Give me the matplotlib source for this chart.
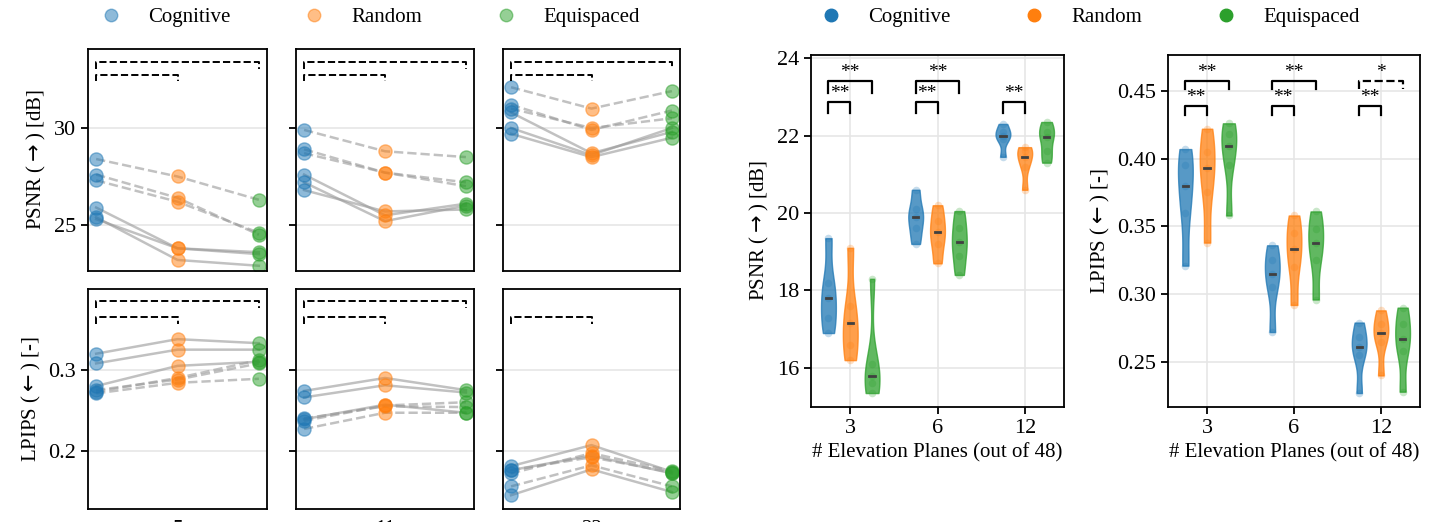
import numpy as np
import matplotlib
matplotlib.use("Agg")
import matplotlib.pyplot as plt
from matplotlib.lines import Line2D

plt.rcParams["font.family"] = ["Liberation Serif", "DejaVu Serif"]
plt.rcParams["font.size"] = 15
plt.rcParams["xtick.labelsize"] = 16
plt.rcParams["ytick.labelsize"] = 16

methods = ["Cognitive", "Random", "Equispaced"]
colors = ["#1f77b4", "#ff7f0e", "#2ca02c"]
panel_titles = ["5", "11", "23"]

# paired runs: [solid lines], [dashed lines], values for (Cognitive, Random, Equispaced)
psnr_solid = [
    [(25.3, 23.8, 23.5), (25.9, 23.8, 23.6), (25.4, 23.2, 22.9)],
    [(27.6, 25.5, 26.1), (27.2, 25.2, 26.0), (26.8, 25.7, 25.8)],
    [(30.0, 28.6, 30.0), (29.7, 28.5, 29.5), (30.8, 28.7, 29.8)],
]
psnr_dashed = [
    [(28.4, 27.5, 26.3), (27.6, 26.4, 24.5), (27.3, 26.2, 24.6)],
    [(29.9, 28.8, 28.5), (28.9, 27.7, 27.2), (28.7, 27.7, 27.0)],
    [(32.1, 31.0, 31.9), (31.2, 29.9, 30.9), (31.0, 30.0, 30.5)],
]
lpips_solid = [
    [(0.320, 0.338, 0.333), (0.308, 0.325, 0.325), (0.280, 0.305, 0.310)],
    [(0.274, 0.290, 0.275), (0.266, 0.281, 0.272), (0.239, 0.257, 0.247)],
    [(0.181, 0.207, 0.174), (0.145, 0.177, 0.149), (0.176, 0.194, 0.172)],
]
lpips_dashed = [
    [(0.273, 0.290, 0.312), (0.275, 0.288, 0.308), (0.271, 0.284, 0.289)],
    [(0.237, 0.256, 0.260), (0.240, 0.255, 0.254), (0.227, 0.247, 0.247)],
    [(0.176, 0.192, 0.173), (0.156, 0.182, 0.156), (0.172, 0.197, 0.175)],
]
# brackets per panel: (start, end) index pairs
psnr_brackets = [[(0, 1), (0, 2)]] * 3
lpips_brackets = [[(0, 1), (0, 2)], [(0, 1), (0, 2)], [(0, 1)]]

planes = ["3", "6", "12"]
psnr_vio = {
    "Cognitive": [[16.9, 17.3, 17.8, 18.2, 19.35], [19.2, 19.6, 19.9, 20.1, 20.6], [21.45, 21.9, 22.0, 22.1, 22.3]],
    "Random": [[16.2, 16.6, 17.15, 17.6, 19.1], [18.7, 19.2, 19.5, 19.8, 20.2], [20.6, 21.2, 21.45, 21.6, 21.7]],
    "Equispaced": [[15.35, 15.6, 15.8, 16.1, 18.3], [18.4, 18.9, 19.25, 19.6, 20.05], [21.3, 21.6, 21.95, 22.1, 22.35]],
}
lpips_vio = {
    "Cognitive": [[0.321, 0.36, 0.38, 0.395, 0.407], [0.272, 0.305, 0.315, 0.325, 0.336], [0.227, 0.255, 0.261, 0.268, 0.279]],
    "Random": [[0.338, 0.375, 0.393, 0.405, 0.422], [0.292, 0.32, 0.333, 0.345, 0.358], [0.240, 0.265, 0.271, 0.278, 0.288]],
    "Equispaced": [[0.358, 0.395, 0.409, 0.418, 0.426], [0.296, 0.325, 0.338, 0.348, 0.361], [0.228, 0.258, 0.267, 0.278, 0.290]],
}
psnr_sig = [("**", "**"), ("**", "**"), ("**", None)]
lpips_sig = [("**", "**"), ("**", "**"), ("**", "*")]

W, H = 1434, 522
fig = plt.figure(figsize=(W / 100, H / 100), dpi=100)

def add_ax(x0, y0, x1, y1):
    return fig.add_axes([x0 / W, 1 - y1 / H, (x1 - x0) / W, (y1 - y0) / H])

def style(ax):
    for s in ax.spines.values():
        s.set_linewidth(1.3)
    ax.tick_params(width=1.3, length=5)

cols = [(88, 267), (296, 474), (503, 680)]
rows = [(49, 271), (289, 509)]
ylims = [(22.63, 34.07), (0.128, 0.40)]
yticks = [[25, 30], [0.2, 0.3]]
ylabels = [r"PSNR ($\rightarrow$) [dB]", r"LPIPS ($\leftarrow$) [-]"]
bh = [(33.4, 32.75, 0.35), (0.385, 0.365, 0.008)]

for r, (solid, dashed, brs) in enumerate([(psnr_solid, psnr_dashed, psnr_brackets),
                                           (lpips_solid, lpips_dashed, lpips_brackets)]):
    for c in range(3):
        ax = add_ax(cols[c][0], rows[r][0], cols[c][1], rows[r][1])
        style(ax)
        for ls, group in (("-", solid[c]), ("--", dashed[c])):
            for vals in group:
                ax.plot(range(3), vals, ls=ls, color="0.6", alpha=0.6, lw=1.8, zorder=1)
                for i, v in enumerate(vals):
                    ax.scatter(i, v, s=90, color=colors[i], alpha=0.5, zorder=2)
        for i0, i1 in brs[c]:
            y = bh[r][0] if i1 == 2 else bh[r][1]
            d = bh[r][2]
            ax.plot([i0, i0, i1, i1], [y - d, y, y, y - d], "k--", lw=1.4)
        ax.set_xlim(-0.1, 2.1)
        ax.set_ylim(*ylims[r])
        ax.set_yticks(yticks[r])
        ax.set_xticks([])
        ax.grid(axis="y", color="0.9", lw=1.2)
        ax.set_axisbelow(True)
        if c == 0:
            ax.set_ylabel(ylabels[r])
        else:
            ax.set_yticklabels([])
        if r == 1:
            ax.set_xlabel(panel_titles[c], labelpad=8)

def violins(ax, data, sig, hs):
    offs = [-0.25, 0, 0.25]
    for m, meth in enumerate(methods):
        for g in range(3):
            pos = g + offs[m]
            vals = data[meth][g]
            vp = ax.violinplot([vals], positions=[pos], widths=0.17, showextrema=False, bw_method=0.5)
            for b in vp["bodies"]:
                b.set_facecolor(colors[m]); b.set_edgecolor(colors[m]); b.set_alpha(0.75)
            ax.scatter([pos] * len(vals), vals, s=30, color=colors[m], alpha=0.25, lw=0)
            ax.plot([pos - 0.03, pos + 0.03], [np.median(vals)] * 2, color="0.25", lw=2)
    y0, y1, d = hs
    for g in range(3):
        short, long_ = sig[g]
        ax.plot([g - 0.25, g - 0.25, g, g], [y0 - d, y0, y0, y0 - d], "k-", lw=1.6)
        ax.text(g - 0.125, y0, short, ha="center", va="bottom", fontsize=14)
        if long_:
            ls = "--" if long_ == "*" else "-"
            ax.plot([g - 0.25, g - 0.25, g + 0.25, g + 0.25], [y1 - d, y1, y1, y1 - d], "k", ls=ls, lw=1.6)
            ax.text(g, y1, long_, ha="center", va="bottom", fontsize=14)
    ax.set_xticks(range(3))
    ax.set_xticklabels(planes)
    ax.set_xlim(-0.45, 2.45)
    ax.set_xlabel("# Elevation Planes (out of 48)")
    ax.grid(color="0.9", lw=1.2)
    ax.set_axisbelow(True)

ax3 = add_ax(811, 55, 1064, 407)
style(ax3)
violins(ax3, psnr_vio, psnr_sig, (22.87, 23.4, 0.3))
ax3.set_ylim(14.99, 24.08)
ax3.set_yticks([16, 18, 20, 22, 24])
ax3.set_ylabel(r"PSNR ($\rightarrow$) [dB]")

ax4 = add_ax(1168, 55, 1420, 407)
style(ax4)
violins(ax4, lpips_vio, lpips_sig, (0.4385, 0.4575, 0.006))
ax4.set_ylim(0.2167, 0.4764)
ax4.set_yticks([0.25, 0.30, 0.35, 0.40, 0.45])
ax4.set_ylabel(r"LPIPS ($\leftarrow$) [-]")

h1 = [Line2D([], [], marker="o", ls="", color=c, alpha=0.5, ms=9) for c in colors]
fig.legend(h1, methods, loc="center", bbox_to_anchor=(365 / W, 1 - 17 / H), ncol=3,
           frameon=False, columnspacing=3, handletextpad=0.8)
h2 = [Line2D([], [], marker="o", ls="", color=c, ms=9) for c in colors]
fig.legend(h2, methods, loc="center", bbox_to_anchor=(1085 / W, 1 - 17 / H), ncol=3,
           frameon=False, columnspacing=3, handletextpad=0.8)

fig.savefig("out.png", dpi=100)
